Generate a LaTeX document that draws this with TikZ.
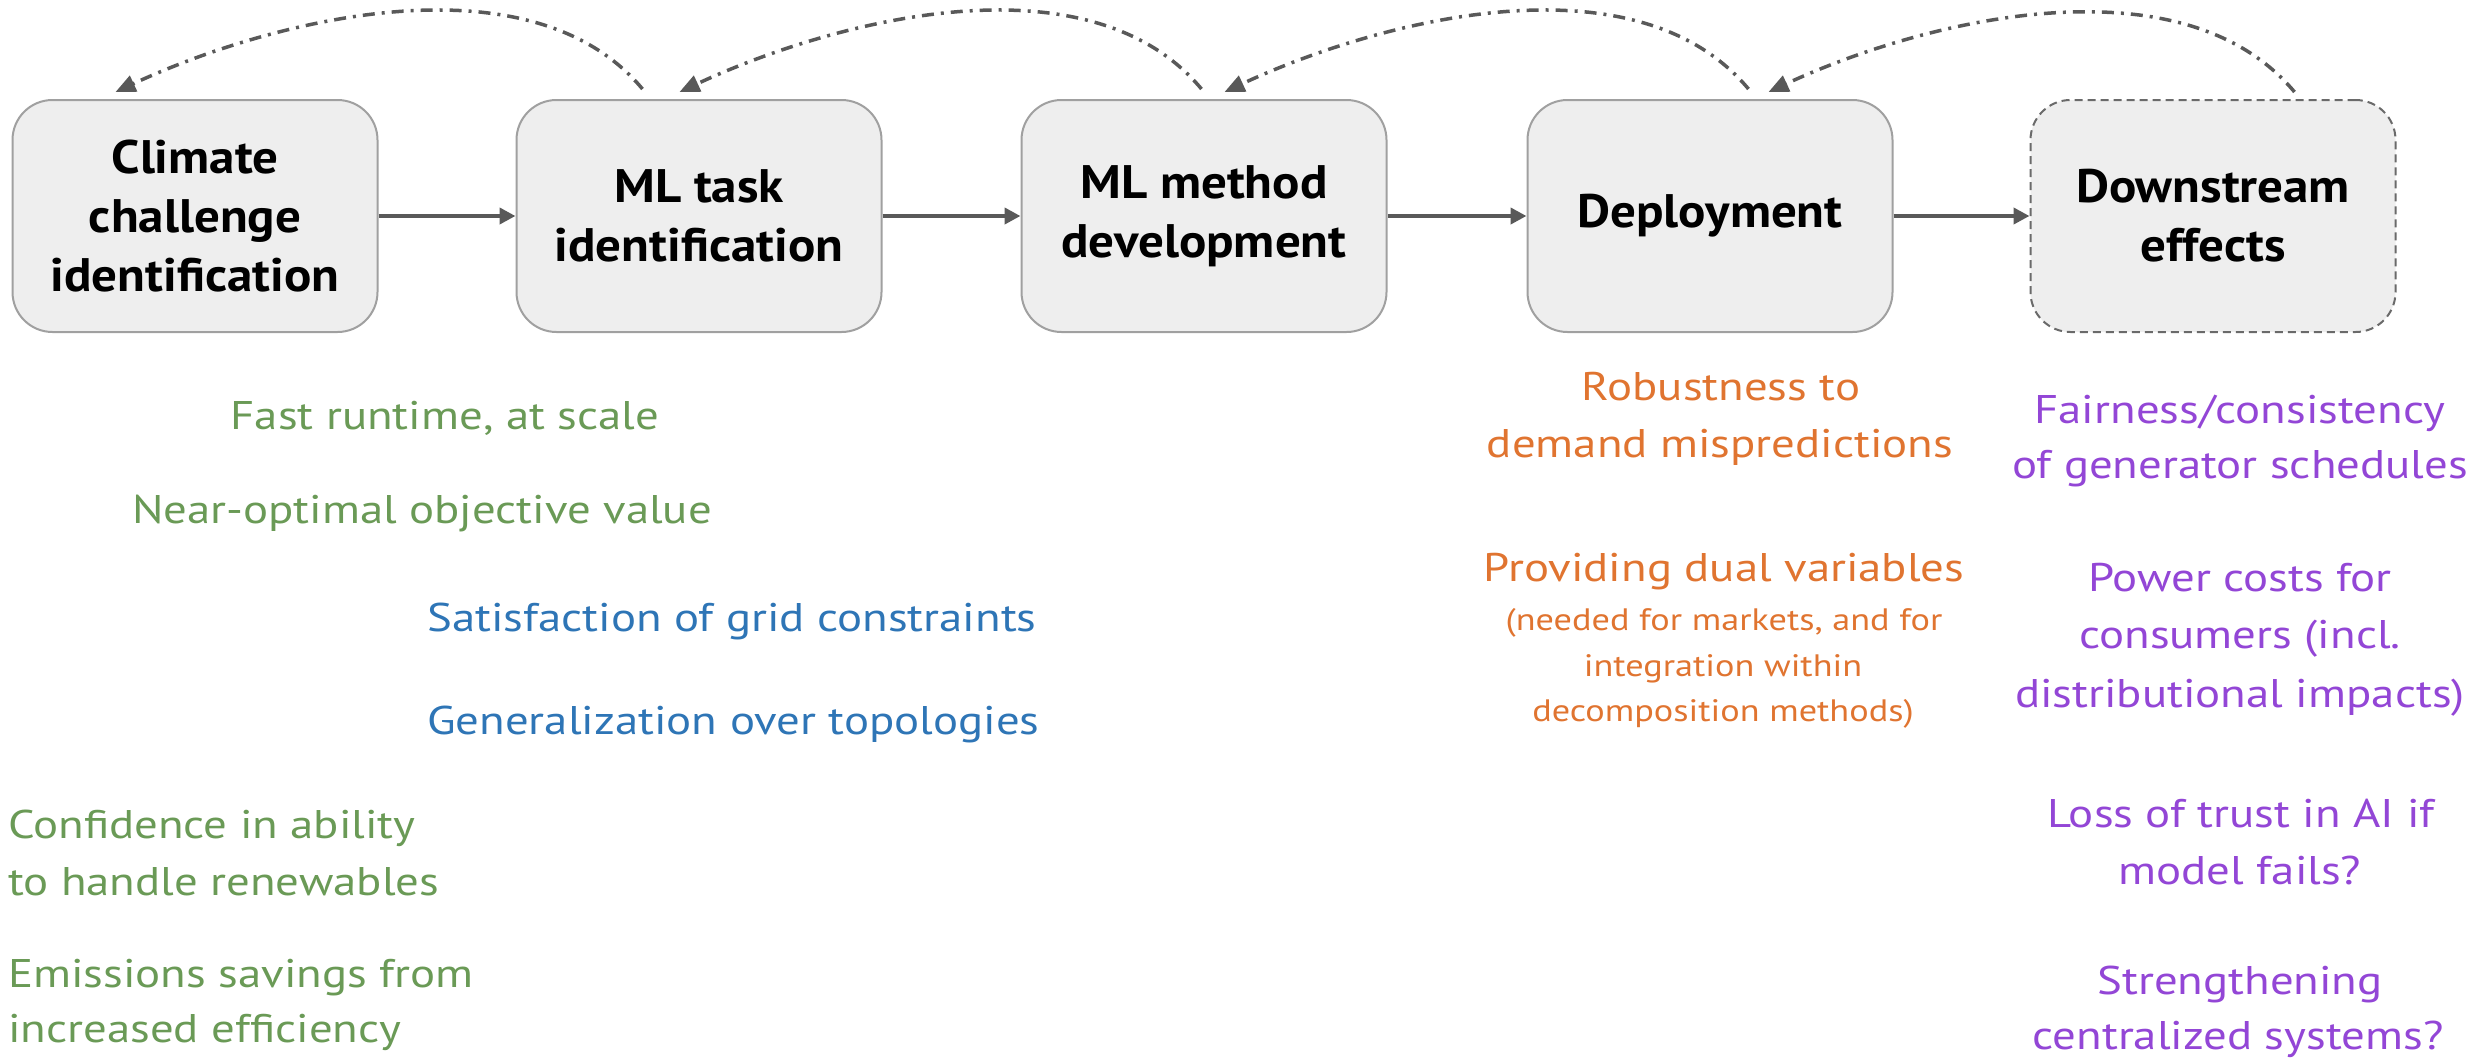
\documentclass[tikz,border=0pt]{standalone}
\usepackage{fontspec}
\setmainfont{PT Sans}[FakeStretch=1.17]
\newfontfamily\boxfont{PT Sans}[FakeStretch=1.085]
\usetikzlibrary{arrows.meta,calc}
\definecolor{boxfill}{HTML}{EEEEEE}
\definecolor{boxline}{HTML}{A0A0A0}
\definecolor{arr}{HTML}{595959}
\definecolor{tgreen}{HTML}{6A9A56}
\definecolor{tblue}{HTML}{2E75B6}
\definecolor{torange}{HTML}{E07430}
\definecolor{tpurple}{HTML}{9346D6}
\begin{document}
\begin{tikzpicture}[x=1pt,y=-1pt,
  stage/.style={draw=boxline, line width=2pt, fill=boxfill, rounded corners=40pt,
    minimum width=365pt, minimum height=232pt, inner sep=0pt, align=center,
    font=\boxfont\fontsize{47}{59}\selectfont\bfseries},
  openstage/.style={stage, draw=arr!90, dash pattern=on 8pt off 5pt},
  flow/.style={draw=arr, line width=4pt, -{Triangle[length=16pt,width=16pt]}},
  back/.style={draw=arr, line width=3.5pt, dash pattern=on 12pt off 7pt on 3pt off 7pt,
    -{Triangle[length=20pt,width=17pt]}},
  lbl/.style={anchor=base, inner sep=0pt, font=\fontsize{40}{56}\selectfont},
  lblw/.style={lbl, anchor=base west},
  small/.style={lbl, font=\fontsize{31}{45}\selectfont}]
\useasboundingbox (0,0) rectangle (2476,1058);

\node[stage] (b1) at (195,216) {Climate\\challenge\\identification};
\node[stage] (b2) at (699,216) {ML task\\identification};
\node[stage] (b3) at (1204,216) {ML method\\development};
\node[stage] (b4) at (1710,216) {Deployment};
\node[openstage] (b5) at (2213,216) {Downstream\\effects};

\draw[flow] (b1) -- (b2);
\draw[flow] (b2) -- (b3);
\draw[flow] (b3) -- (b4);
\draw[flow] (b4) -- (b5);

\coordinate (s1) at ($(b2.north west)+(127,-10)$);
\coordinate (e1) at ($(b1.north west)+(104,-7)$);
\coordinate (s2) at ($(b3.north west)+(181,-10)$);
\coordinate (e2) at ($(b2.north west)+(164,-7)$);
\coordinate (s3) at ($(b4.north west)+(222,-10)$);
\coordinate (e3) at ($(b3.north west)+(204,-7)$);
\coordinate (s4) at ($(b5.north west)+(265,-7)$);
\coordinate (e4) at ($(b4.north west)+(242,-7)$);
\foreach \i in {1,...,4}{
  \draw[back] (s\i) .. controls +(-112,-134) and +(159,-74) .. (e\i);
}

% green
\node[lbl, tgreen] (g1) at (445,429) {Fast runtime, at scale};
\node[lbl, tgreen] (g2) at (422,523) {Near-optimal objective value};
\node[lblw, tgreen] (g3) at (8,838) {Confidence in ability};
\node[lblw, tgreen] (g4) at (8,895) {to handle renewables};
\node[lblw, tgreen] (g5) at (8,987) {Emissions savings from};
\node[lblw, tgreen] (g6) at (8,1042) {increased efficiency};
% blue
\node[lblw, tblue] (u1) at (427,631) {Satisfaction of grid constraints};
\node[lblw, tblue] (u2) at (427,734) {Generalization over topologies};
% orange
\node[lbl, torange] (o1) at (1721,400) {Robustness to};
\node[lbl, torange] (o2) at (1720,457) {demand mispredictions};
\node[lbl, torange] (o3) at (1724,581) {Providing dual variables};
\node[small, torange] (o4) at (1724,630) {(needed for markets, and for};
\node[small, torange] (o5) at (1723,676) {integration within};
\node[small, torange] (o6) at (1723,721) {decomposition methods)};
% purple
\node[lbl, tpurple] (p1) at (2240,423) {Fairness/consistency};
\node[lbl, tpurple] (p2) at (2240,478) {of generator schedules};
\node[lbl, tpurple] (p3) at (2240,591) {Power costs for};
\node[lbl, tpurple] (p4) at (2240,648) {consumers (incl.};
\node[lbl, tpurple] (p5) at (2240,707) {distributional impacts)};
\node[lbl, tpurple] (p6) at (2241,827) {Loss of trust in AI if};
\node[lbl, tpurple] (p7) at (2240,884) {model fails?};
\node[lbl, tpurple] (p8) at (2240,994) {Strengthening};
\node[lbl, tpurple] (p9) at (2238,1049) {centralized systems?};
\end{tikzpicture}
\end{document}
